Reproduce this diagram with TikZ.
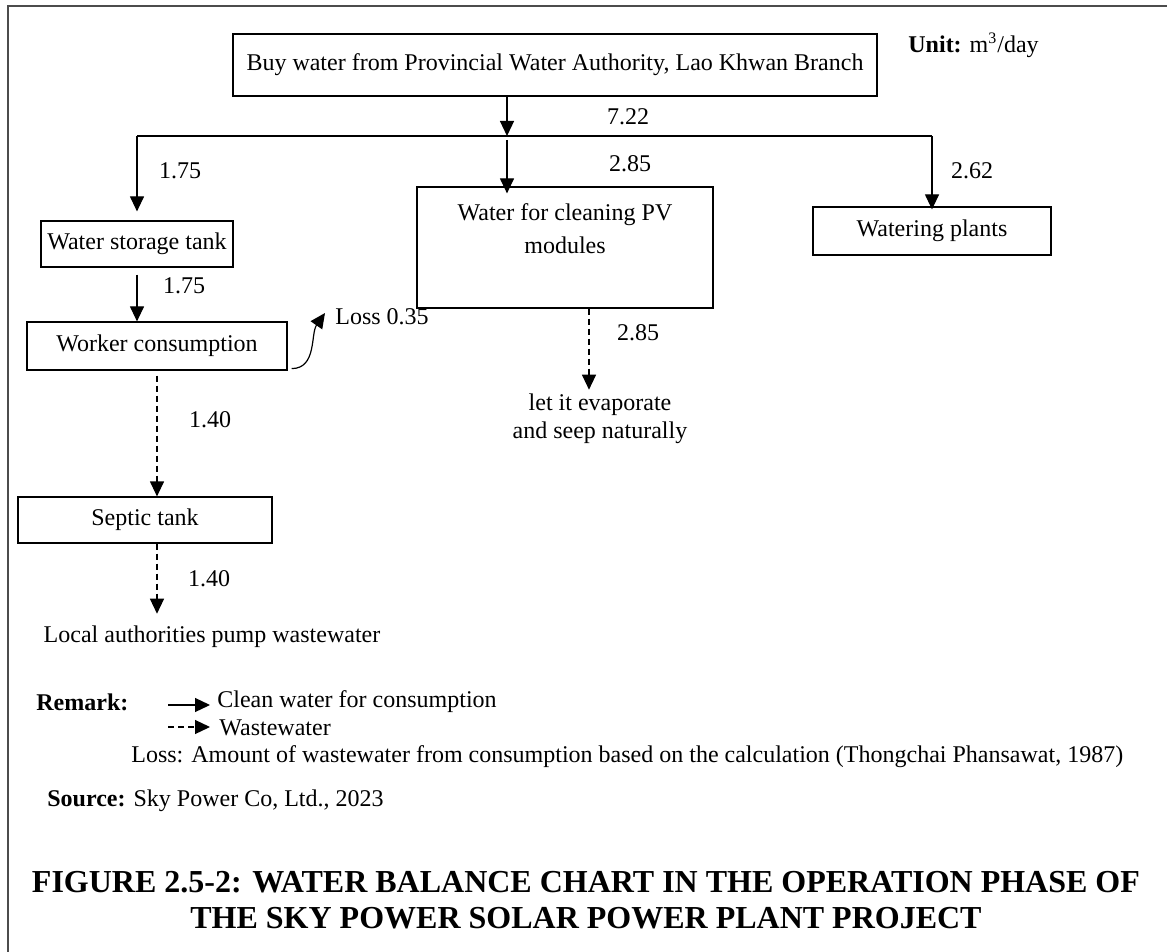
\documentclass[tikz,border=0pt]{standalone}
\usepackage{fontspec}
\setmainfont{Liberation Serif}
\usetikzlibrary{arrows.meta}

\tikzset{
    box/.style = {draw, line width=0.6pt, inner sep=0pt, align=center},
    flow/.style = {line width=0.6pt, -{Triangle[length=7.5pt,width=7pt]}},
    waste/.style = {flow, dash pattern=on 3pt off 2pt},
    txt/.style = {inner sep=0pt}
}

\begin{document}
\begin{tikzpicture}[x=0.5pt, y=-0.5pt, font=\fontsize{12}{14}\selectfont]
    \useasboundingbox (0,0) rectangle (1167,952);
    \draw[line width=1pt, black!70] (8,952) -- (8,6) -- (1167,6);

    % boxes
    \node[box, minimum width=322pt, minimum height=31pt] (buy) at (555,65)
        {\raisebox{2pt}{Buy water from Provincial Water Authority, Lao Khwan Branch}};
    \node[box, minimum width=96pt, minimum height=23pt] (store) at (137,244) {Water storage tank};
    \node[box, minimum width=148pt, minimum height=60.5pt,
        label={[name=pvtext, txt, align=center, anchor=north, yshift=-8.5pt]north:
            Water for cleaning PV\\[2.5pt]modules}] (pv) at (565,247.5) {};
    \node[box, minimum width=119pt, minimum height=24pt] (plants) at (932,231) {Watering plants};
    \node[box, minimum width=130pt, minimum height=24pt] (worker) at (157,346) {Worker consumption};
    \node[box, minimum width=127pt, minimum height=23pt] (septic) at (145,520) {Septic tank};

    \node[txt] (local) at (212,637) {Local authorities pump wastewater};
    \node[txt, align=center] (evap) at (600,419) {let it evaporate\\and seep naturally};
    \node[txt, anchor=west] (loss) at (335,317) {Loss 0.35};
    \node[txt, anchor=west] (unit) at (908,45) {\textbf{Unit:} m\textsuperscript{3}/day};

    % quantities
    \foreach \t/\x/\y [count=\i] in {7.22/628/117, 1.75/180/171, 2.85/630/164, 2.62/972/171,
            1.75/184/286, 1.40/210/420, 1.40/209/579, 2.85/638/333} {
        \node[txt] (q\i) at (\x,\y) {\t};
    }

    % clean water
    \coordinate (split) at (507,136);
    \draw[flow] (buy.south -| split) -- (split);
    \draw[line width=0.6pt] (split -| store) -- (split -| plants);
    \draw[flow, shorten >=4.5pt] (split -| store) -- (store.north);
    \draw[flow, shorten >=-3.5pt] ([yshift=-2pt]split) -- (split |- pv.north);
    \draw[flow, shorten >=-1.5pt] (split -| plants) -- (plants.north);
    \draw[flow] ([yshift=-3.5pt]store.south) -- (store.south |- worker.north);
    \draw[flow] ([xshift=2pt,yshift=1pt]worker.south east)
        to[out=0, in=235] ([xshift=-5pt,yshift=2pt]loss.west);

    % wastewater
    \draw[waste] ([yshift=-2.5pt]worker.south) -- (worker.south |- septic.north);
    \draw[waste, shorten >=6pt] (septic.south -| worker.south) -- (worker.south |- local.north);
    \draw[waste, shorten >=2pt] ([xshift=12pt]pv.south) -- ([xshift=12pt]pv.south |- evap.north);

    % remark
    \node[txt, anchor=west] (remark) at (36,702) {\textbf{Remark:}};
    \coordinate (c1) at (168,705);
    \coordinate (c2) at (210,705);
    \coordinate (w1) at (168,727);
    \coordinate (w2) at (210,727);
    \draw[flow] (c1) -- (c2);
    \draw[waste] (w1) -- (w2);
    \node[txt, anchor=west] (cleantext) at (217,702) {Clean water for consumption};
    \node[txt, anchor=west] (wastetext) at (219,728) {Wastewater};
    \node[txt, anchor=west] (losstext) at (131,757)
        {Loss: Amount of wastewater from consumption based on the calculation (Thongchai Phansawat, 1987)};
    \node[txt, anchor=west] (source) at (47,801) {\textbf{Source:} Sky Power Co, Ltd., 2023};

    % title
    \node[txt, align=center, font=\fontsize{16}{18}\selectfont\bfseries] (title) at (586,900)
        {FIGURE 2.5-2: WATER BALANCE CHART IN THE OPERATION PHASE OF\\
         THE SKY POWER SOLAR POWER PLANT PROJECT};
\end{tikzpicture}
\end{document}
